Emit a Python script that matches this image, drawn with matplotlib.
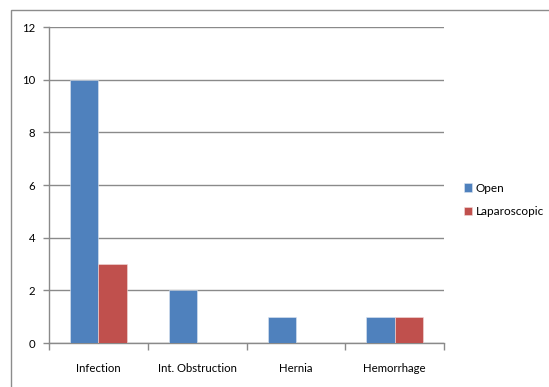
import matplotlib
matplotlib.use("Agg")
import matplotlib.pyplot as plt
from matplotlib.patches import Rectangle
import numpy as np

categories = ["Infection", "Int. Obstruction", "Hernia", "Hemorrhage"]
open_vals = [10, 2, 1, 1]
lap_vals = [3, 0, 0, 1]
y_ticks = [0, 2, 4, 6, 8, 10, 12]

W, H = 549, 387
plt.rcParams['font.family'] = ['Lato', 'DejaVu Sans']

fig = plt.figure(figsize=(W / 100, H / 100), dpi=100)
fig.patch.set_facecolor('white')

# outer chart frame (only top and left edges fall inside the canvas)
fig.patches.append(Rectangle((11 / W, -0.1), 1.5, 1 - 10 / H + 0.1,
                             transform=fig.transFigure, fill=False,
                             edgecolor='#8c8c8c', linewidth=1.0))

ax = fig.add_axes([49 / W, 1 - 343 / H, (444 - 49) / W, (343 - 27) / H])
x = np.arange(len(categories))
w = 1 / 3.5
grid_c = '#8a8a8a'
ax.bar(x - w / 2, open_vals, w, color='#4F81BD', edgecolor='#dce6f2', linewidth=0.4, zorder=3, label='Open')
ax.bar(x + w / 2, lap_vals, w, color='#C0504D', edgecolor='#f2dcdb', linewidth=0.4, zorder=3, label='Laparoscopic')

fs = 8.2
ax.set_xlim(-0.5, len(categories) - 0.5)
ax.set_ylim(0, 12)
ax.set_yticks(y_ticks)
ax.set_yticklabels([str(v) for v in y_ticks], fontsize=fs)
ax.yaxis.grid(True, color=grid_c, linewidth=1.0, zorder=0)
ax.set_axisbelow(True)

ax.set_xticks(x)
ax.set_xticklabels(categories, fontsize=fs)
ax.tick_params(axis='x', length=0, pad=14.5)
ax.set_xticks(np.arange(len(categories) + 1) - 0.5, minor=True)
ax.tick_params(axis='x', which='minor', length=5, color=grid_c, width=1.0)
ax.tick_params(axis='y', length=4, color=grid_c, width=1.0, pad=6)

for s in ['top', 'right']:
    ax.spines[s].set_visible(False)
for s in ['left', 'bottom']:
    ax.spines[s].set_color(grid_c)
    ax.spines[s].set_linewidth(1.0)

ax.legend(loc='center left', bbox_to_anchor=(453 / W, 1 - 200 / H),
          bbox_transform=fig.transFigure, frameon=False, fontsize=8.5,
          handlelength=0.7, handleheight=0.7, handletextpad=0.3, labelspacing=1.1)

fig.savefig("out.png", dpi=100)
